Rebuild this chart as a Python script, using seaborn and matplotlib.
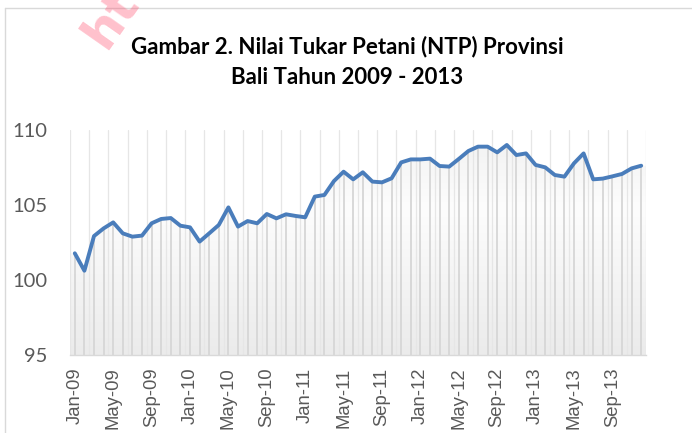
import numpy as np
import pandas as pd
import matplotlib
matplotlib.use("Agg")
import matplotlib.pyplot as plt
import seaborn as sns
from matplotlib.colors import LinearSegmentedColormap
from matplotlib.lines import Line2D
from matplotlib.path import Path

# ---- data ----
months = pd.date_range("2009-01-01", "2013-12-01", freq="MS")
month_labels = [d.strftime("%b-%y") for d in months]
ntp = [101.78, 100.62, 102.93, 103.44, 103.84, 103.11, 102.89, 102.96, 103.78, 104.07,
       104.13, 103.62, 103.51, 102.56, 103.11, 103.67, 104.84, 103.56, 103.93, 103.78,
       104.40, 104.11, 104.38, 104.27, 104.18, 105.56, 105.67, 106.60, 107.22, 106.71,
       107.18, 106.56, 106.51, 106.78, 107.84, 108.04, 108.04, 108.09, 107.60, 107.56,
       108.07, 108.60, 108.89, 108.89, 108.51, 109.00, 108.33, 108.44, 107.67, 107.51,
       107.00, 106.89, 107.78, 108.44, 106.71, 106.76, 106.91, 107.07, 107.44, 107.62]
y_ticks = [95, 100, 105, 110]
title_lines = ["Gambar 2. Nilai Tukar Petani (NTP) Provinsi", "Bali Tahun 2009 - 2013"]

df = pd.DataFrame({"idx": np.arange(len(ntp)), "ntp": ntp, "label": month_labels})

sns.set_theme(style="white")
W, H = 692, 433
fig = plt.figure(figsize=(W / 100, H / 100), dpi=100)
fig.patch.set_facecolor("white")
ax = fig.add_axes([70 / W, 78 / H, 576 / W, 225 / H])
ax.set_facecolor("white")

n = len(ntp)
ymin, ymax = 95, 110
ax.set_xlim(-0.5, n - 0.5)
ax.set_ylim(ymin, ymax)

# gradient fill under the line, clipped to the area below the series
cmap = LinearSegmentedColormap.from_list(
    "g", [(0.0, "#f1f1f1"), (0.35, "#fdfdfd"), (1.0, "#ebebeb")])
grad = np.linspace(0, 1, 256)[:, None]
im = ax.imshow(grad, extent=(-0.5, n - 0.5, ymin, ymax), aspect="auto",
               cmap=cmap, origin="upper", zorder=0.5)
xs = np.concatenate([[-0.5], df["idx"].values, [n - 0.5, n - 0.5, -0.5, -0.5]])
ys = np.concatenate([[df["ntp"].iloc[0]], df["ntp"].values,
                     [df["ntp"].iloc[-1], ymin, ymin, df["ntp"].iloc[0]]])
im.set_clip_path(Path(np.column_stack([xs, ys])), transform=ax.transData)

# faint gridlines at every second category boundary
for b in np.arange(-0.5, n, 2):
    ax.axvline(b, color="#e6e6e6", lw=0.9, zorder=1)

# drop lines from each point
ax.vlines(df["idx"], ymin, df["ntp"], color="#d6d6d6", lw=1.3, zorder=1.5)

# main series
sns.lineplot(data=df, x="idx", y="ntp", ax=ax, color="#4a7dbb", lw=2.8,
             zorder=3, solid_joinstyle="round", solid_capstyle="round")

# axes styling
for s in ["left", "right", "top"]:
    ax.spines[s].set_visible(False)
ax.spines["bottom"].set_color("#d9d9d9")
ax.spines["bottom"].set_linewidth(1.0)
ax.set_xlabel("")
ax.set_ylabel("")

ax.set_yticks(y_ticks)
ax.set_yticklabels([str(v) for v in y_ticks], fontfamily="Lato", fontsize=14.5, color="#595959")
ax.tick_params(axis="y", length=0, pad=16.5)

label_pos = df["idx"].values[::4]
ax.set_xticks(label_pos)
ax.set_xticklabels(df["label"].values[::4], rotation=90, fontfamily="Liberation Sans",
                   fontsize=13.3, color="#595959")
ax.tick_params(axis="x", which="major", length=0, pad=9)
ax.set_xticks(np.arange(-0.5, n, 4), minor=True)
ax.tick_params(axis="x", which="minor", length=5, width=1.0, color="#d9d9d9", direction="out")
ax.grid(False)

# title
fig.text(347 / W, 1 - 47 / H, title_lines[0], ha="center", va="center",
         fontfamily="Lato", fontweight="bold", fontsize=16, color="#000000")
fig.text(347 / W, 1 - 78 / H, title_lines[1], ha="center", va="center",
         fontfamily="Lato", fontweight="bold", fontsize=16, color="#000000")

# chart border
fig.add_artist(Line2D([5 / W, 1.0], [1 - 8 / H, 1 - 8 / H], color="#d9d9d9", lw=1.0))
fig.add_artist(Line2D([5 / W, 5 / W], [0, 1 - 8 / H], color="#d9d9d9", lw=1.0))

# watermark fragment
fig.text(106 / W, 1 - 50 / H, "http", rotation=55, rotation_mode="anchor",
         fontfamily="DejaVu Sans", fontweight="bold", fontsize=36, color="#ff4d6d",
         alpha=0.35, ha="left", va="baseline")

fig.savefig("out.png", dpi=100)
